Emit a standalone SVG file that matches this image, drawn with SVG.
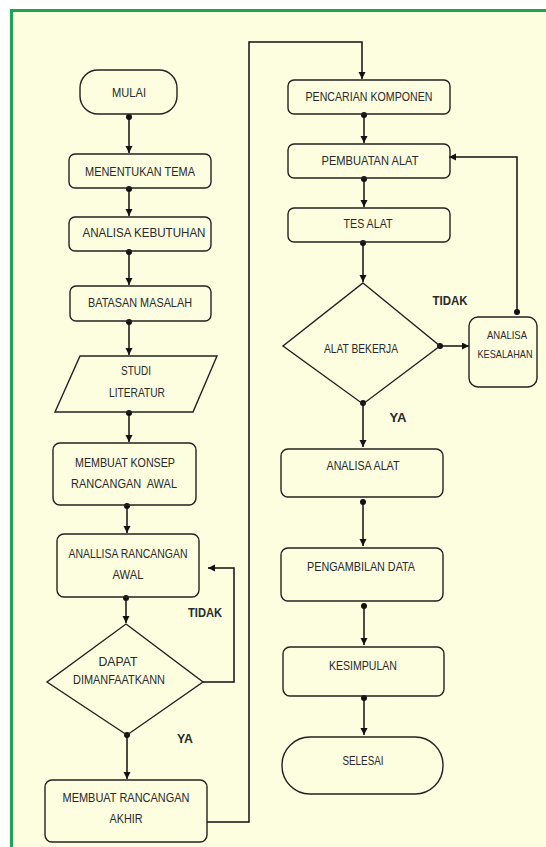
<svg xmlns="http://www.w3.org/2000/svg" width="546" height="847" viewBox="0 0 546 847">
<defs>
<style>
.bg{fill:#fdfde0}
.b{fill:none;stroke:#222;stroke-width:1.4}
.t{font-family:"Liberation Sans",Arial,sans-serif;font-size:13px;fill:#2a2a2a;text-anchor:middle;white-space:pre}
.s{font-size:11px}
.lbl{font-family:"Liberation Sans",Arial,sans-serif;font-size:13px;font-weight:bold;fill:#2a2a2a;text-anchor:middle}
.c{fill:none;stroke:#111;stroke-width:1.5}
.d{fill:#111}
</style>
<marker id="ah" markerUnits="userSpaceOnUse" markerWidth="8" markerHeight="8" refX="7" refY="3.5" orient="auto">
<path d="M0,0 L7,3.5 L0,7 z" fill="#111"/>
</marker>
</defs>
<rect x="0" y="0" width="546" height="847" fill="#ffffff"/>
<rect class="bg" x="12" y="11" width="534" height="836"/>
<line x1="10" y1="10.5" x2="546" y2="10.5" stroke="#1aa64e" stroke-width="3"/>
<line x1="11.5" y1="9" x2="11.5" y2="847" stroke="#1aa64e" stroke-width="3"/>

<g id="connectors">
<line class="c" x1="129" y1="116" x2="129" y2="153" marker-end="url(#ah)"/><circle class="d" cx="129" cy="117" r="3"/>
<line class="c" x1="129" y1="188" x2="129" y2="216" marker-end="url(#ah)"/><circle class="d" cx="129" cy="189" r="3"/>
<line class="c" x1="129" y1="251" x2="129" y2="285" marker-end="url(#ah)"/><circle class="d" cx="129" cy="252" r="3"/>
<line class="c" x1="129" y1="321" x2="129" y2="355" marker-end="url(#ah)"/><circle class="d" cx="129" cy="322" r="3"/>
<line class="c" x1="129" y1="412" x2="129" y2="442" marker-end="url(#ah)"/><circle class="d" cx="129" cy="413" r="3"/>
<line class="c" x1="127" y1="505" x2="127" y2="533" marker-end="url(#ah)"/><circle class="d" cx="127" cy="506" r="3"/>
<line class="c" x1="126" y1="597" x2="126" y2="623" marker-end="url(#ah)"/><circle class="d" cx="126" cy="598" r="3"/>
<line class="c" x1="127" y1="735" x2="127" y2="779" marker-end="url(#ah)"/><circle class="d" cx="127" cy="735" r="3"/>
<polyline class="c" points="203,682 234,682 234,568 208,568" marker-end="url(#ah)"/>
<polyline class="c" points="207,822 249,822 249,42 362,42 362,79" marker-end="url(#ah)"/>
<line class="c" x1="364" y1="114" x2="364" y2="143" marker-end="url(#ah)"/><circle class="d" cx="364" cy="115" r="3"/>
<line class="c" x1="364" y1="178" x2="364" y2="207" marker-end="url(#ah)"/><circle class="d" cx="364" cy="179" r="3"/>
<line class="c" x1="363" y1="242" x2="363" y2="282" marker-end="url(#ah)"/><circle class="d" cx="363" cy="243" r="3"/>
<line class="c" x1="440" y1="346" x2="469" y2="346" marker-end="url(#ah)"/><circle class="d" cx="440" cy="346" r="3"/>
<polyline class="c" points="517,312 517,157 449,157" marker-end="url(#ah)"/><circle class="d" cx="517" cy="312" r="3"/>
<line class="c" x1="363" y1="403" x2="363" y2="447" marker-end="url(#ah)"/><circle class="d" cx="363" cy="403" r="3"/>
<line class="c" x1="363" y1="501" x2="363" y2="546" marker-end="url(#ah)"/><circle class="d" cx="363" cy="502" r="3"/>
<line class="c" x1="364" y1="605" x2="364" y2="645" marker-end="url(#ah)"/><circle class="d" cx="364" cy="606" r="3"/>
<line class="c" x1="364" y1="698" x2="364" y2="735" marker-end="url(#ah)"/><circle class="d" cx="364" cy="698" r="3"/>
</g>

<g id="mulai"><rect class="b" x="80" y="70" width="97" height="44" rx="18"/><text class="t" x="129" y="96.5" textLength="34" lengthAdjust="spacingAndGlyphs">MULAI</text></g>
<g id="menentukan-tema"><rect class="b" x="69" y="154" width="142" height="34" rx="6"/><text class="t" x="140" y="176" textLength="110" lengthAdjust="spacingAndGlyphs">MENENTUKAN TEMA</text></g>
<g id="analisa-kebutuhan"><rect class="b" x="69" y="217" width="142" height="34" rx="6"/><text class="t" x="144" y="237" textLength="123" lengthAdjust="spacingAndGlyphs">ANALISA KEBUTUHAN</text></g>
<g id="batasan-masalah"><rect class="b" x="70" y="286" width="141" height="35" rx="6"/><text class="t" x="140" y="307" textLength="104" lengthAdjust="spacingAndGlyphs">BATASAN MASALAH</text></g>
<g id="studi-literatur"><polygon class="b" points="80,356 217,356 193,412 55,412"/><text class="t" x="136" y="375" textLength="30" lengthAdjust="spacingAndGlyphs">STUDI</text><text class="t" x="137" y="397" textLength="56" lengthAdjust="spacingAndGlyphs">LITERATUR</text></g>
<g id="membuat-konsep"><rect class="b" x="53" y="443" width="143" height="62" rx="7"/><text class="t" x="125" y="467" textLength="100" lengthAdjust="spacingAndGlyphs">MEMBUAT KONSEP</text><text class="t" x="124" y="488" textLength="106" lengthAdjust="spacingAndGlyphs">RANCANGAN  AWAL</text></g>
<g id="analisa-rancangan-awal"><rect class="b" x="57" y="534" width="142" height="63" rx="7"/><text class="t" x="128" y="558" textLength="119" lengthAdjust="spacingAndGlyphs">ANALLISA RANCANGAN</text><text class="t" x="128" y="579" textLength="31" lengthAdjust="spacingAndGlyphs">AWAL</text></g>
<g id="dapat-dimanfaatkan"><polygon class="b" points="126,624 203,682 127,735 47,682"/><text class="t" x="118" y="666" textLength="39" lengthAdjust="spacingAndGlyphs">DAPAT</text><text class="t" x="119" y="684" textLength="92" lengthAdjust="spacingAndGlyphs">DIMANFAATKANN</text></g>
<g id="membuat-rancangan-akhir"><rect class="b" x="45" y="780" width="162" height="62" rx="7"/><text class="t" x="126" y="802" textLength="127" lengthAdjust="spacingAndGlyphs">MEMBUAT RANCANGAN</text><text class="t" x="126" y="823" textLength="33" lengthAdjust="spacingAndGlyphs">AKHIR</text></g>

<g id="pencarian-komponen"><rect class="b" x="288" y="80" width="162" height="34" rx="6"/><text class="t" x="369" y="101" textLength="127" lengthAdjust="spacingAndGlyphs">PENCARIAN KOMPONEN</text></g>
<g id="pembuatan-alat"><rect class="b" x="288" y="144" width="162" height="34" rx="6"/><text class="t" x="370" y="165" textLength="97" lengthAdjust="spacingAndGlyphs">PEMBUATAN ALAT</text></g>
<g id="tes-alat"><rect class="b" x="288" y="208" width="162" height="34" rx="6"/><text class="t" x="368" y="228" textLength="49" lengthAdjust="spacingAndGlyphs">TES ALAT</text></g>
<g id="alat-bekerja"><polygon class="b" points="363,283 440,346 363,404 283,346"/><text class="t" x="361" y="353" textLength="74" lengthAdjust="spacingAndGlyphs">ALAT BEKERJA</text></g>
<g id="analisa-kesalahan"><rect class="b" x="469" y="317" width="68" height="70" rx="9"/><text class="t s" x="507" y="339" textLength="40" lengthAdjust="spacingAndGlyphs">ANALISA</text><text class="t s" x="505" y="358" textLength="55" lengthAdjust="spacingAndGlyphs">KESALAHAN</text></g>
<g id="analisa-alat"><rect class="b" x="281" y="449" width="162" height="48" rx="7"/><text class="t" x="363" y="470" textLength="73" lengthAdjust="spacingAndGlyphs">ANALISA ALAT</text></g>
<g id="pengambilan-data"><rect class="b" x="281" y="548" width="162" height="53" rx="7"/><text class="t" x="361" y="571" textLength="108" lengthAdjust="spacingAndGlyphs">PENGAMBILAN DATA</text></g>
<g id="kesimpulan"><rect class="b" x="283" y="647" width="161" height="49" rx="7"/><text class="t" x="363" y="670" textLength="68" lengthAdjust="spacingAndGlyphs">KESIMPULAN</text></g>
<g id="selesai"><rect class="b" x="282" y="737" width="161" height="57" rx="28"/><text class="t" x="363" y="765" textLength="41" lengthAdjust="spacingAndGlyphs">SELESAI</text></g>

<g id="labels">
<text class="lbl" x="205" y="617" textLength="34" lengthAdjust="spacingAndGlyphs">TIDAK</text>
<text class="lbl" x="185" y="743" textLength="16" lengthAdjust="spacingAndGlyphs">YA</text>
<text class="lbl" x="450" y="305" textLength="35" lengthAdjust="spacingAndGlyphs">TIDAK</text>
<text class="lbl" x="398" y="422" textLength="17" lengthAdjust="spacingAndGlyphs">YA</text>
</g>
</svg>
